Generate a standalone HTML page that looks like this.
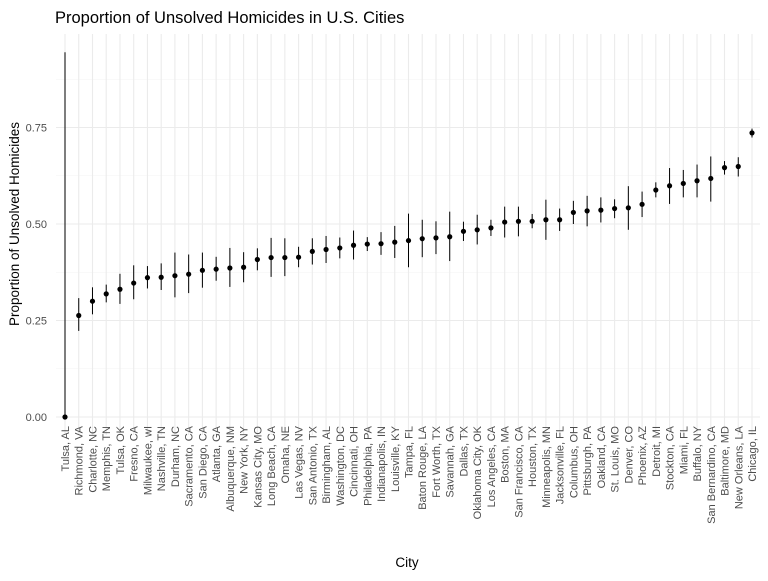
<!DOCTYPE html>
<html><head><meta charset="utf-8"><style>
body{margin:0;background:#fff;}
svg{font-family:"Liberation Sans",sans-serif;}
</style></head><body>
<svg id="chart" width="768" height="576">
<text x="55" y="23" font-size="16.5" fill="#000">Proportion of Unsolved Homicides in U.S. Cities</text>
<text transform="translate(19,224) rotate(-90)" text-anchor="middle" font-size="13.5" fill="#000">Proportion of Unsolved Homicides</text>
<text x="407" y="567" text-anchor="middle" font-size="13.5" fill="#000">City</text>
<g id="grid"></g><g id="marks"></g><g id="labels"></g>
</svg>
<script>
const cities=["Tulsa, AL","Richmond, VA","Charlotte, NC","Memphis, TN","Tulsa, OK","Fresno, CA","Milwaukee, wI","Nashville, TN","Durham, NC","Sacramento, CA","San Diego, CA","Atlanta, GA","Albuquerque, NM","New York, NY","Kansas City, MO","Long Beach, CA","Omaha, NE","Las Vegas, NV","San Antonio, TX","Birmingham, AL","Washington, DC","Cincinnati, OH","Philadelphia, PA","Indianapolis, IN","Louisville, KY","Tampa, FL","Baton Rouge, LA","Fort Worth, TX","Savannah, GA","Dallas, TX","Oklahoma City, OK","Los Angeles, CA","Boston, MA","San Francisco, CA","Houston, TX","Minneapolis, MN","Jacksonville, FL","Columbus, OH","Pittsburgh, PA","Oakland, CA","St. Louis, MO","Denver, CO","Phoenix, AZ","Detroit, MI","Stockton, CA","Miami, FL","Buffalo, NY","San Bernardino, CA","Baltimore, MD","New Orleans, LA","Chicago, IL"];
const estimates=[0,0.263,0.300,0.319,0.331,0.347,0.361,0.362,0.366,0.370,0.380,0.383,0.386,0.388,0.408,0.413,0.413,0.414,0.429,0.434,0.438,0.445,0.448,0.449,0.453,0.457,0.462,0.464,0.467,0.481,0.485,0.490,0.505,0.507,0.507,0.511,0.511,0.530,0.534,0.536,0.540,0.542,0.551,0.588,0.599,0.605,0.612,0.618,0.646,0.649,0.736];
const lows=[0,0.223,0.266,0.297,0.293,0.305,0.333,0.329,0.310,0.321,0.335,0.353,0.337,0.349,0.380,0.363,0.365,0.388,0.395,0.399,0.411,0.408,0.430,0.420,0.412,0.388,0.414,0.422,0.404,0.456,0.447,0.469,0.465,0.468,0.489,0.459,0.482,0.500,0.494,0.504,0.515,0.485,0.518,0.569,0.552,0.569,0.569,0.558,0.628,0.623,0.724];
const highs=[0.945,0.308,0.336,0.343,0.371,0.393,0.391,0.398,0.426,0.421,0.426,0.415,0.438,0.427,0.437,0.464,0.463,0.441,0.463,0.469,0.465,0.483,0.466,0.479,0.495,0.527,0.511,0.507,0.532,0.506,0.524,0.511,0.545,0.545,0.526,0.563,0.540,0.560,0.573,0.569,0.564,0.598,0.584,0.608,0.645,0.640,0.654,0.675,0.663,0.673,0.747];
const yTicks=[0,0.25,0.5,0.75];
const yTickLabels=["0.00","0.25","0.50","0.75"];
const NS="http://www.w3.org/2000/svg";
const n=cities.length;
const x0=65,xStep=(752-65)/(n-1);
const xs=i=>x0+i*xStep;
const ys=v=>417-v*386;
const pL=56,pR=760,pT=34,pB=435;
function mk(tag,attrs,parent){const e=document.createElementNS(NS,tag);for(const k in attrs)e.setAttribute(k,attrs[k]);parent.appendChild(e);return e;}
const grid=document.getElementById('grid'),marks=document.getElementById('marks'),labels=document.getElementById('labels');
for(let i=0;i<yTicks.length;i++){const v=yTicks[i]+0.125;const l=mk('line',{x1:pL,x2:pR,y1:ys(v),y2:ys(v),stroke:'#f3f3f3','stroke-width':0.6},grid);

}
yTicks.forEach((v,i)=>{const l=mk('line',{x1:pL,x2:pR,y1:ys(v),y2:ys(v),stroke:'#ebebeb','stroke-width':1.1},grid);


const t=mk('text',{x:47,y:ys(v)+4,'text-anchor':'end','font-size':11,fill:'#4d4d4d'},labels);t.textContent=yTickLabels[i];

});
for(let i=0;i<n;i++){const x=xs(i);
const g=mk('line',{x1:x,x2:x,y1:pT,y2:pB,stroke:'#ebebeb','stroke-width':1.1},grid);


const e=mk('line',{x1:x,x2:x,y1:ys(lows[i]),y2:ys(highs[i]),stroke:'#000','stroke-width':1},marks);


const c=mk('circle',{cx:x,cy:ys(estimates[i]),r:2.6,fill:'#000'},marks);


const t=mk('text',{transform:`translate(${x+4},${pB-9}) rotate(-90)`,'text-anchor':'end','font-size':11,fill:'#4d4d4d'},labels);t.textContent=cities[i];

}
</script>
</body></html>
